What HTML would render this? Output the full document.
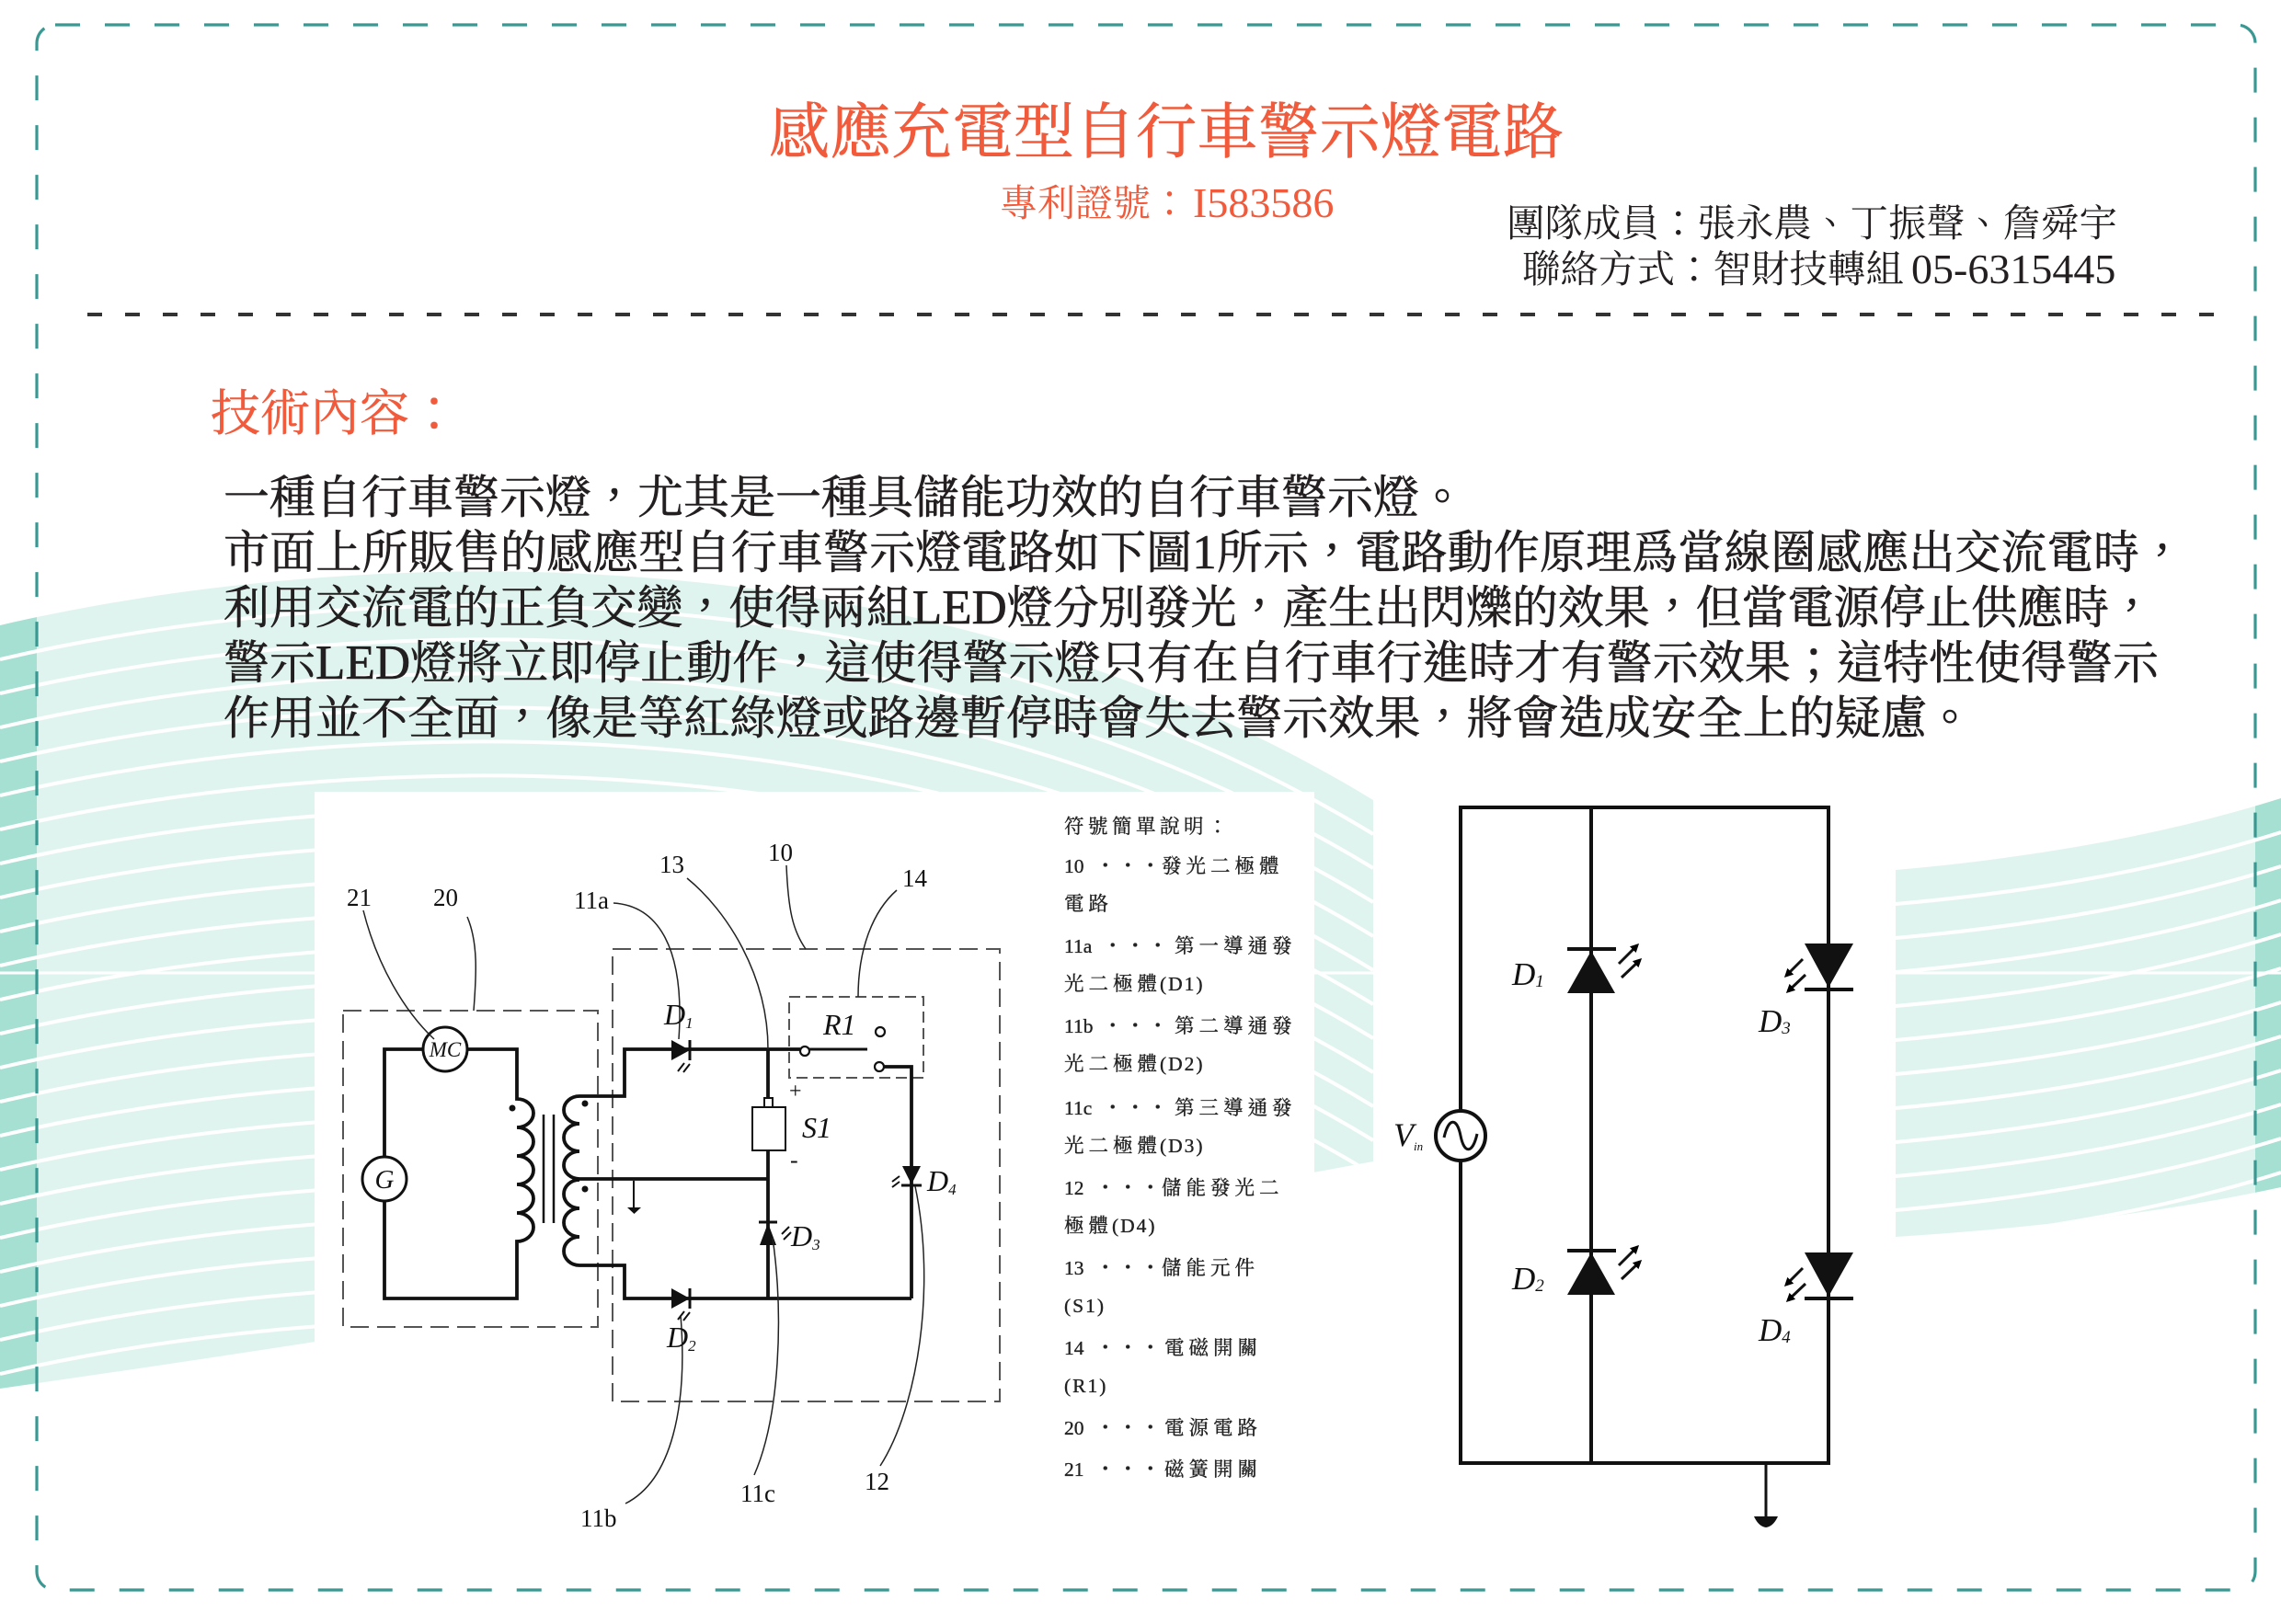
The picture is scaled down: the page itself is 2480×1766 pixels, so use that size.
<!DOCTYPE html>
<html lang="zh-TW"><head><meta charset="utf-8">
<style>
html,body{margin:0;padding:0;background:#fff;}
svg{display:block;}
</style></head><body>
<svg width="2480" height="1766" viewBox="0 0 2480 1766" xmlns="http://www.w3.org/2000/svg" xml:lang="zh-TW" lang="zh-TW">
<defs>
<clipPath id="lc"><path d="M0 680 C300 610 950 540 1493 870 L1493 1263 Q700 1410 0 1510 Z"/></clipPath>
<clipPath id="rc"><path d="M2061 946 Q2300 925 2480 868 L2480 1291 Q2300 1330 2061 1345 Z"/></clipPath>
<marker id="ah" viewBox="0 0 10 10" refX="7" refY="5" markerWidth="3.2" markerHeight="3.2" orient="auto"><path d="M0 0 L10 5 L0 10 Z" fill="#000"/></marker>
</defs>
<rect width="2480" height="1766" fill="#fff"/>

<!-- background decoration left -->
<g clip-path="url(#lc)">
<rect x="0" y="500" width="1500" height="1100" fill="#a6e0d2"/>
<g fill="none" stroke="#fff" stroke-width="4">
<path d="M0 717 C300 647 950 577 1493 907"/>
<path d="M0 754 C300 684 950 614 1493 944"/>
<path d="M0 791 C300 721 950 651 1493 981"/>
<path d="M0 828 C300 758 950 688 1493 1018"/>
<path d="M0 865 C300 795 950 725 1493 1055"/>
<path d="M0 902 C300 832 950 762 1493 1092"/>
<path d="M0 939 C300 869 950 799 1493 1129"/>
<path d="M0 976 C300 906 950 836 1493 1166"/>
<path d="M0 1013 C300 943 950 873 1493 1203"/>
<path d="M0 1050 C300 980 950 910 1493 1240"/>
<path d="M0 1087 C300 1017 950 947 1493 1277"/>
<path d="M0 1124 C300 1054 950 984 1493 1314"/>
<path d="M0 1161 C300 1091 950 1021 1493 1351"/>
<path d="M0 1198 C300 1128 950 1058 1493 1388"/>
<path d="M0 1235 C300 1165 950 1095 1493 1425"/>
<path d="M0 1272 C300 1202 950 1132 1493 1462"/>
<path d="M0 1309 C300 1239 950 1169 1493 1499"/>
<path d="M0 1346 C300 1276 950 1206 1493 1536"/>
<path d="M0 1383 C300 1313 950 1243 1493 1573"/>
<path d="M0 1420 C300 1350 950 1280 1493 1610"/>
<path d="M0 1457 C300 1387 950 1317 1493 1647"/>
<path d="M0 1494 C300 1424 950 1354 1493 1684"/>
<path d="M0 1058 H1500" stroke-width="3"/>
</g>
</g>
<!-- background decoration right -->
<g clip-path="url(#rc)">
<rect x="2050" y="850" width="440" height="520" fill="#a6e0d2"/>
<g fill="none" stroke="#fff" stroke-width="4">
<path d="M2061 983 Q2300 962 2480 905"/>
<path d="M2061 1020 Q2300 999 2480 942"/>
<path d="M2061 1057 Q2300 1036 2480 979"/>
<path d="M2061 1094 Q2300 1073 2480 1016"/>
<path d="M2061 1131 Q2300 1110 2480 1053"/>
<path d="M2061 1168 Q2300 1147 2480 1090"/>
<path d="M2061 1205 Q2300 1184 2480 1127"/>
<path d="M2061 1242 Q2300 1221 2480 1164"/>
<path d="M2061 1279 Q2300 1258 2480 1201"/>
<path d="M2061 1316 Q2300 1295 2480 1238"/>
<path d="M2061 1353 Q2300 1332 2480 1275"/>
<path d="M2050 1058 H2480" stroke-width="3"/>
</g>
</g>
<!-- white overlay inside border -->
<rect x="40" y="0" width="2412" height="1766" fill="#fff" opacity="0.65"/>
<!-- white panel behind left diagram -->
<rect x="342" y="861" width="1087" height="860" fill="#fff"/>

<!-- outer dashed border -->
<rect x="40" y="27" width="2412" height="1702" rx="20" ry="20" fill="none" stroke="#3a9892" stroke-width="3.2" stroke-dasharray="27 27"/>
<!-- separator -->
<line x1="95" y1="342" x2="2410" y2="342" stroke="#333" stroke-width="4" stroke-dasharray="16 25"/>

<!-- header text -->
<g font-family="'Liberation Serif','Noto Serif CJK SC',serif">
<text x="836" y="166" font-size="66" fill="#f15a3b" stroke="#f15a3b" stroke-width="0.6" textLength="864" lengthAdjust="spacing">感應充電型自行車警示燈電路</text>
<text x="1087" y="235" font-size="41" fill="#f15a3b">專利證號：</text>
<text x="1297" y="236" font-size="46" fill="#f15a3b">I583586</text>
<text x="2302" y="257" font-size="41.5" fill="#231f20" text-anchor="end">團隊成員：張永農、丁振聲、詹舜宇</text>
<text x="2070" y="307" font-size="41.5" fill="#231f20" text-anchor="end">聯絡方式：智財技轉組</text>
<text x="2078" y="308" font-size="46" fill="#231f20">05-6315445</text>
<text x="229" y="468" font-size="54" fill="#f15a3b" stroke="#f15a3b" stroke-width="0.4">技術內容：</text>
<g font-size="50" fill="#231f20" stroke="#231f20" stroke-width="0.6">
<text x="243" y="558" textLength="1350" lengthAdjust="spacing">一種自行車警示燈，尤其是一種具儲能功效的自行車警示燈。</text>
<text x="243" y="618" textLength="2133" lengthAdjust="spacing">市面上所販售的感應型自行車警示燈電路如下圖<tspan font-size="53">1</tspan>所示，電路動作原理爲當線圈感應出交流電時，</text>
<text x="243" y="678" textLength="2100" lengthAdjust="spacing">利用交流電的正負交變，使得兩組<tspan font-size="53">LED</tspan>燈分別發光，產生出閃爍的效果，但當電源停止供應時，</text>
<text x="243" y="738" textLength="2104" lengthAdjust="spacing">警示<tspan font-size="53">LED</tspan>燈將立即停止動作，這使得警示燈只有在自行車行進時才有警示效果；這特性使得警示</text>
<text x="243" y="798" textLength="1902" lengthAdjust="spacing">作用並不全面，像是等紅綠燈或路邊暫停時會失去警示效果，將會造成安全上的疑慮。</text>
</g>
</g>

<!-- legend -->
<g font-family="'Liberation Serif','Noto Serif CJK SC',serif" font-size="21.5" fill="#222" stroke="#222" stroke-width="0.35">
<text x="1157" y="906" letter-spacing="4.5">符號簡單說明：</text>

<text x="1157" y="949">10</text><text x="1191" y="949" letter-spacing="3">・・・</text><text x="1263" y="949" letter-spacing="5">發光二極體</text>
<text x="1157" y="990" letter-spacing="5">電路</text>

<text x="1157" y="1036">11a</text><text x="1199" y="1036" letter-spacing="3">・・・</text><text x="1277" y="1036" letter-spacing="5">第一導通發</text>
<text x="1157" y="1077" letter-spacing="5">光二極體</text><text x="1261" y="1077" letter-spacing="2">(D1)</text>

<text x="1157" y="1123">11b</text><text x="1199" y="1123" letter-spacing="3">・・・</text><text x="1277" y="1123" letter-spacing="5">第二導通發</text>
<text x="1157" y="1164" letter-spacing="5">光二極體</text><text x="1261" y="1164" letter-spacing="2">(D2)</text>

<text x="1157" y="1212">11c</text><text x="1199" y="1212" letter-spacing="3">・・・</text><text x="1277" y="1212" letter-spacing="5">第三導通發</text>
<text x="1157" y="1253" letter-spacing="5">光二極體</text><text x="1261" y="1253" letter-spacing="2">(D3)</text>

<text x="1157" y="1299">12</text><text x="1191" y="1299" letter-spacing="3">・・・</text><text x="1263" y="1299" letter-spacing="5">儲能發光二</text>
<text x="1157" y="1340" letter-spacing="5">極體</text><text x="1209" y="1340" letter-spacing="2">(D4)</text>

<text x="1157" y="1386">13</text><text x="1191" y="1386" letter-spacing="3">・・・</text><text x="1263" y="1386" letter-spacing="5">儲能元件</text>
<text x="1157" y="1427" letter-spacing="2">(S1)</text>

<text x="1157" y="1473">14</text><text x="1191" y="1473" letter-spacing="3">・・・</text><text x="1266" y="1473" letter-spacing="5">電磁開關</text>
<text x="1157" y="1514" letter-spacing="2">(R1)</text>

<text x="1157" y="1560">20</text><text x="1191" y="1560" letter-spacing="3">・・・</text><text x="1266" y="1560" letter-spacing="5">電源電路</text>
<text x="1157" y="1605">21</text><text x="1191" y="1605" letter-spacing="3">・・・</text><text x="1266" y="1605" letter-spacing="5">磁簧開關</text>
</g>

<!-- LEFT CIRCUIT -->
<g fill="none" stroke="#555" stroke-width="2" stroke-dasharray="20 9">
<rect x="373" y="1099" width="277" height="344"/>
<rect x="666" y="1032" width="421" height="492"/>
<rect x="858" y="1084" width="146" height="88" stroke-dasharray="12 6"/>
</g>
<g fill="none" stroke="#111" stroke-width="3.8">
<path d="M418 1258 V1141 H460"/>
<path d="M508 1141 H562 V1195 a18 15.5 0 0 1 0 31 a18 15.5 0 0 1 0 31 a18 15.5 0 0 1 0 31 a18 15.5 0 0 1 0 31 a18 15.5 0 0 1 0 31 V1412 H418 V1306"/>
<circle cx="484" cy="1141" r="24" stroke-width="3"/>
<circle cx="418" cy="1282" r="24" stroke-width="3"/>
<path d="M591 1212 V1330 M602 1212 V1330" stroke-width="2.5"/>
<path d="M870 1141 H679 V1192 H630 a17 15 0 0 0 0 30 a17 15 0 0 0 0 30 a17 15 0 0 0 0 30"/>
<path d="M630 1282 H835"/>
<path d="M630 1283 a17 15.5 0 0 0 0 31 a17 15.5 0 0 0 0 31 a17 15.5 0 0 0 0 31 H679 V1412 H991"/>
<path d="M835 1141 V1194"/>
<rect x="831" y="1194" width="9" height="10" stroke-width="2"/>
<rect x="818" y="1204" width="36" height="47" stroke-width="2"/>
<path d="M835 1251 V1412"/>
<path d="M880 1141 H943" stroke-width="3"/>
<circle cx="875" cy="1143" r="5" stroke-width="2.2"/>
<circle cx="957" cy="1122" r="5" stroke-width="2.2"/>
<circle cx="956" cy="1160" r="5" stroke-width="2.2"/>
<path d="M961 1160 H991 V1412"/>
<path d="M750 1131 V1153 M750 1401 V1423 M825 1329 H845 M980 1289 H1002" stroke-width="3"/>
<path d="M689 1284 V1313" stroke-width="2"/>
</g>
<g fill="#111">
<polygon points="730,1131 730,1153 750,1142"/>
<polygon points="730,1401 730,1423 750,1412"/>
<polygon points="826,1354 844,1354 835,1330"/>
<polygon points="981,1268 1001,1268 991,1288"/>
<path d="M682 1313 H697 L689.5 1320 Z"/>
<circle cx="557" cy="1205" r="3.5"/>
<circle cx="636" cy="1200" r="3.5"/>
<circle cx="636" cy="1293" r="3.5"/>
</g>
<!-- small LED emission marks -->
<g stroke="#111" stroke-width="2" fill="none">
<path d="M744 1156 L737 1165 M750 1157 L743 1166"/>
<path d="M744 1426 L737 1435 M750 1427 L743 1436"/>
<path d="M850 1342 L858 1334 M852 1348 L860 1340"/>
<path d="M978 1279 L970 1285 M978 1285 L970 1291"/>
</g>
<!-- leader lines -->
<g fill="none" stroke="#222" stroke-width="1.5">
<path d="M395 990 C410 1050 440 1100 472 1130"/>
<path d="M508 997 C520 1025 518 1060 515 1099"/>
<path d="M667 982 C715 985 745 1030 738 1130"/>
<path d="M747 955 C790 990 835 1060 835 1141"/>
<path d="M855 941 C857 990 862 1012 876 1032"/>
<path d="M975 968 C950 990 933 1030 933 1084"/>
<path d="M680 1635 C730 1610 748 1530 740 1430"/>
<path d="M820 1604 C848 1540 852 1430 840 1346"/>
<path d="M957 1594 C998 1530 1018 1400 995 1290"/>
</g>
<!-- left circuit labels -->
<g font-family="'Liberation Serif','Noto Serif CJK SC',serif" fill="#111">
<g font-size="27">
<text x="377" y="985">21</text>
<text x="471" y="985">20</text>
<text x="624" y="988">11a</text>
<text x="717" y="949">13</text>
<text x="835" y="936">10</text>
<text x="981" y="964">14</text>
<text x="631" y="1660">11b</text>
<text x="805" y="1633">11c</text>
<text x="940" y="1620">12</text>
</g>
<g font-style="italic">
<text x="484" y="1149" font-size="23" text-anchor="middle">MC</text>
<text x="418" y="1292" font-size="29" text-anchor="middle">G</text>
<text x="722" y="1114" font-size="32">D<tspan font-size="17" dy="4">1</tspan></text>
<text x="725" y="1465" font-size="32">D<tspan font-size="17" dy="4">2</tspan></text>
<text x="860" y="1355" font-size="32">D<tspan font-size="17" dy="4">3</tspan></text>
<text x="1008" y="1295" font-size="32">D<tspan font-size="17" dy="4">4</tspan></text>
<text x="895" y="1125" font-size="32">R1</text>
<text x="872" y="1237" font-size="32">S1</text>
</g>
<text x="858" y="1194" font-size="24">+</text>
<text x="859" y="1270" font-size="26">-</text>
</g>

<!-- RIGHT CIRCUIT -->
<g fill="none" stroke="#111" stroke-width="4">
<path d="M1588 1208 V878 H1988 V1591 H1588 V1262"/>
<path d="M1730 878 V1591"/>
<circle cx="1588" cy="1235" r="27"/>
<path d="M1570 1237 C1575 1215 1584 1215 1588 1235 C1592 1255 1601 1255 1606 1233" stroke-width="3"/>
<path d="M1704 1032 H1757 M1704 1360 H1757 M1962 1076 H2015 M1962 1412 H2015"/>
<path d="M1920 1591 V1650" stroke-width="3"/>
</g>
<g fill="#111">
<polygon points="1730,1034 1704,1080 1756,1080"/>
<polygon points="1730,1362 1704,1408 1756,1408"/>
<polygon points="1962,1026 2015,1026 1988,1074"/>
<polygon points="1962,1362 2015,1362 1988,1410"/>
<path d="M1907 1649 H1933 Q1928 1660 1920 1661 Q1912 1660 1907 1649 Z"/>
</g>
<g stroke="#111" stroke-width="3" fill="none" marker-end="url(#ah)">
<path d="M1760 1048 L1780 1028"/>
<path d="M1763 1063 L1783 1044"/>
<path d="M1760 1376 L1780 1356"/>
<path d="M1763 1391 L1783 1372"/>
<path d="M1960 1043 L1942 1061"/>
<path d="M1963 1060 L1944 1078"/>
<path d="M1960 1379 L1942 1397"/>
<path d="M1963 1396 L1944 1414"/>
</g>
<g font-family="'Liberation Serif',serif" font-style="italic" fill="#111">
<text x="1644" y="1071" font-size="35">D<tspan font-size="19" dy="2">1</tspan></text>
<text x="1644" y="1402" font-size="35">D<tspan font-size="19" dy="2">2</tspan></text>
<text x="1912" y="1122" font-size="35">D<tspan font-size="19" dy="2">3</tspan></text>
<text x="1912" y="1458" font-size="35">D<tspan font-size="19" dy="2">4</tspan></text>
<text x="1515" y="1246" font-size="36">V<tspan font-size="13" dy="5">in</tspan></text>
</g>
</svg>
</body></html>
